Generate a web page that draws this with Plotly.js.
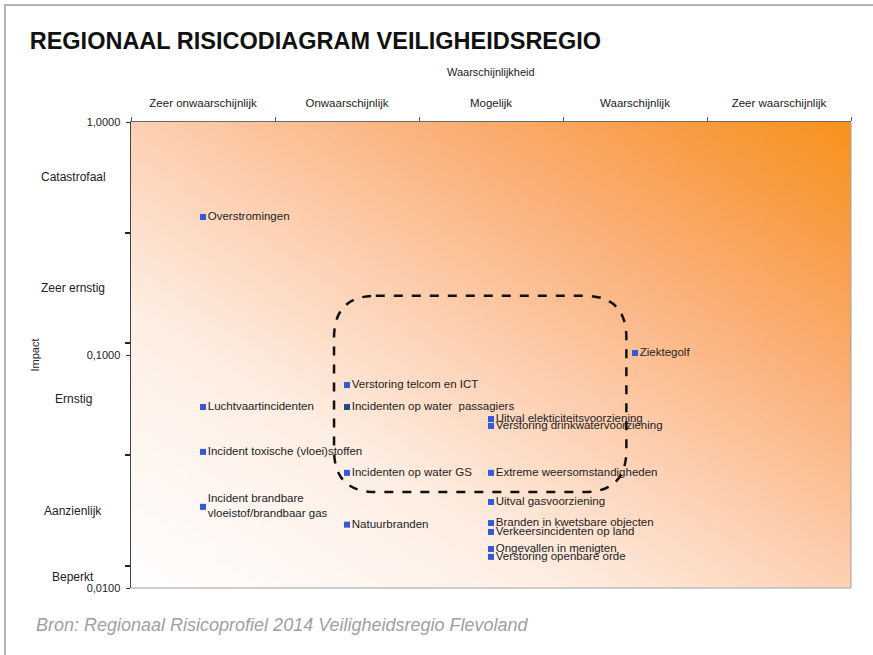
<!DOCTYPE html>
<html>
<head>
<meta charset="utf-8">
<script src="https://cdn.plot.ly/plotly-3.0.1.min.js"></script>
<style>
  body { margin: 0; background: #fff; }
  #frame { position: absolute; left: 4px; top: 4px; width: 900px; height: 700px; z-index: 10;
           border-top: 2px solid #b5b5b5; border-left: 2px solid #b5b5b5; pointer-events: none; }
  #chart { width: 873px; height: 655px; }
</style>
</head>
<body>
<div id="frame"></div>
<div id="chart"></div>
<script>
// kans-categorieen (x-as, boven)
var kansLabels = ['Zeer onwaarschijnlijk', 'Onwaarschijnlijk', 'Mogelijk', 'Waarschijnlijk', 'Zeer waarschijnlijk'];
var kansPos = [0.5, 1.5, 2.5, 3.5, 4.5];

// impact-categorieen (y-as, log)
var impactLabels = ['Catastrofaal', 'Zeer ernstig', 'Ernstig', 'Aanzienlijk', 'Beperkt'];
var impactGrenzen = [1, 0.334, 0.113, 0.0372, 0.0124, 0.01];
var impactTicks = [0.01, 0.1, 1];
var impactTickText = ['0,0100', '0,1000', '1,0000'];

// risico's
var risicos = [
  'Overstromingen',
  'Ziektegolf',
  'Verstoring telcom en ICT',
  'Incidenten op water  passagiers',
  'Luchtvaartincidenten',
  'Uitval elekticiteitsvoorziening',
  'Verstoring drinkwatervoorziening',
  'Incident toxische (vloei)stoffen',
  'Incidenten op water GS',
  'Extreme weersomstandigheden',
  'Incident brandbare<br>vloeistof/brandbaar gas',
  'Uitval gasvoorziening',
  'Natuurbranden',
  'Branden in kwetsbare objecten',
  'Verkeersincidenten op land',
  'Ongevallen in menigten',
  'Verstoring openbare orde'
];
var waarschijnlijkheid = [0.5, 3.5, 1.5, 1.5, 0.5, 2.5, 2.5, 0.5, 1.5, 2.5, 0.5, 2.5, 1.5, 2.5, 2.5, 2.5, 2.5];
var impact = [0.391, 0.102, 0.0743, 0.0598, 0.0598, 0.0531, 0.0496, 0.0384, 0.0312, 0.0312, 0.0223, 0.0234, 0.0187, 0.0190, 0.0174, 0.0147, 0.0136];

// achtergrond: verloop van wit (linksonder) naar oranje (rechtsboven)
function maakVerloop() {
  var c = document.createElement('canvas');
  c.width = 200; c.height = 200;
  var ctx = c.getContext('2d');
  var g = ctx.createLinearGradient(0, 200, 200, 0);
  g.addColorStop(0, '#ffffff');
  g.addColorStop(0.3, '#feeee3');
  g.addColorStop(0.5, '#fdd0b2');
  g.addColorStop(0.7, '#fbb17a');
  g.addColorStop(0.85, '#f99f4c');
  g.addColorStop(1, '#f7921a');
  ctx.fillStyle = g;
  ctx.fillRect(0, 0, 200, 200);
  return c.toDataURL();
}

var kleuren = risicos.map(function (r) {
  return r.indexOf('passagiers') >= 0 ? '#1f4a8a' : '#3358d8';
});

var fnt = 'Liberation Sans, Arial, sans-serif';

var trace = {
  type: 'scatter',
  mode: 'markers+text',
  x: waarschijnlijkheid,
  y: impact,
  text: risicos,
  textposition: 'middle right',
  textfont: { family: fnt, size: 11.5, color: '#222' },
  marker: { symbol: 'square', size: 6, color: kleuren },
  cliponaxis: false,
  hoverinfo: 'text'
};

var annotations = [];
for (var i = 0; i < impactLabels.length; i++) {
  var mid = Math.sqrt(impactGrenzen[i] * impactGrenzen[i + 1]);
  annotations.push({
    xref: 'paper', yref: 'y', x: -0.08, y: Math.log10(mid),
    text: impactLabels[i], showarrow: false, xanchor: 'center', yanchor: 'middle',
    font: { family: fnt, size: 12, color: '#222' }
  });
}
annotations.push({
  xref: 'paper', yref: 'paper', x: 0.5, y: 1.107, xanchor: 'center', yanchor: 'middle',
  text: 'Waarschijnlijkheid', showarrow: false, font: { family: fnt, size: 11, color: '#222' }
});
annotations.push({
  xref: 'paper', yref: 'paper', x: -0.134, y: 0.5, xanchor: 'center', yanchor: 'middle',
  text: 'Impact', textangle: -90, showarrow: false, font: { family: fnt, size: 11, color: '#222' }
});
annotations.push({
  xref: 'paper', yref: 'paper', x: -0.135, y: -0.079, xanchor: 'left', yanchor: 'middle',
  text: '<i>Bron: Regionaal Risicoprofiel 2014 Veiligheidsregio Flevoland</i>',
  showarrow: false, font: { family: fnt, size: 18, color: '#a0a0a0' }
});

// gestippelde afgeronde rechthoek rond de middengroep
var x0 = 0.282, x1 = 0.688, y0 = 0.206, y1 = 0.627, rx = 0.058, ry = 0.09;
var pad = 'M ' + (x0 + rx) + ',' + y1 + ' L ' + (x1 - rx) + ',' + y1 +
  ' Q ' + x1 + ',' + y1 + ' ' + x1 + ',' + (y1 - ry) +
  ' L ' + x1 + ',' + (y0 + ry) + ' Q ' + x1 + ',' + y0 + ' ' + (x1 - rx) + ',' + y0 +
  ' L ' + (x0 + rx) + ',' + y0 + ' Q ' + x0 + ',' + y0 + ' ' + x0 + ',' + (y0 + ry) +
  ' L ' + x0 + ',' + (y1 - ry) + ' Q ' + x0 + ',' + y1 + ' ' + (x0 + rx) + ',' + y1 + ' Z';

var shapes = [
  { type: 'path', xref: 'paper', yref: 'paper', path: pad, line: { color: '#111', width: 2.5, dash: 'dash' } },
  { type: 'line', xref: 'paper', yref: 'paper', x0: 0, x1: 1, y0: 0, y1: 0, line: { color: '#bdbdbd', width: 1.5 } },
  { type: 'line', xref: 'paper', yref: 'paper', x0: 1, x1: 1, y0: 0, y1: 1, line: { color: '#a0a0a0', width: 1 } }
];

var layout = {
  width: 873,
  height: 655,
  margin: { l: 131, r: 22, t: 122, b: 67 },
  paper_bgcolor: '#ffffff',
  plot_bgcolor: 'rgba(0,0,0,0)',
  showlegend: false,
  title: {
    text: '<b>REGIONAAL RISICODIAGRAM VEILIGHEIDSREGIO</b>',
    xref: 'container', yref: 'container', x: 0.034, y: 0.938, xanchor: 'left', yanchor: 'middle',
    font: { family: fnt, size: 23.5, color: '#111' }
  },
  xaxis: {
    side: 'top',
    range: [0, 5],
    tickvals: kansPos,
    ticktext: kansLabels,
    ticks: '',
    ticklabelstandoff: 9,
    showgrid: false,
    zeroline: false,
    showline: true,
    linecolor: '#6a6a6a',
    linewidth: 1.5,
    tickfont: { family: fnt, size: 11.5, color: '#222' },
    minor: { ticks: 'outside', tick0: 0, dtick: 1, ticklen: 4, tickcolor: '#555', showgrid: false },
    fixedrange: true
  },
  yaxis: {
    type: 'log',
    range: [-2, 0],
    tickvals: impactTicks,
    ticktext: impactTickText,
    ticks: 'outside',
    ticklen: 4,
    tickcolor: '#333',
    ticklabelstandoff: 3,
    showgrid: false,
    zeroline: false,
    showline: true,
    linecolor: '#444',
    linewidth: 1.5,
    tickfont: { family: fnt, size: 11, color: '#222' },
    minor: { ticks: 'outside', tickvals: impactGrenzen.slice(1, 5), ticklen: 5, tickwidth: 2, tickcolor: '#222', showgrid: false },
    fixedrange: true
  },
  images: [{
    source: maakVerloop(), xref: 'paper', yref: 'paper', x: 0, y: 1, sizex: 1, sizey: 1,
    sizing: 'stretch', xanchor: 'left', yanchor: 'top', layer: 'below'
  }],
  annotations: annotations,
  shapes: shapes
};

Plotly.newPlot('chart', [trace], layout, { displayModeBar: false, staticPlot: true });
</script>
</body>
</html>
